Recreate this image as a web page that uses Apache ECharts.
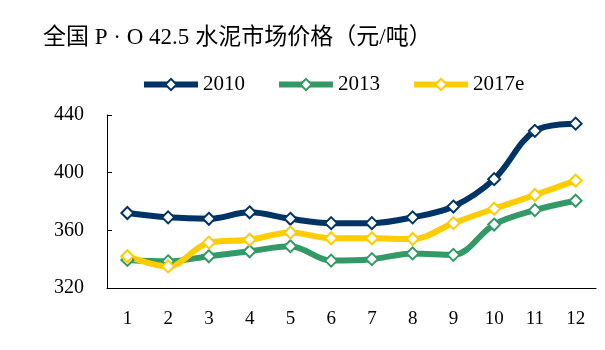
<!DOCTYPE html>
<html>
<head>
<meta charset="utf-8">
<script src="https://cdn.jsdelivr.net/npm/echarts@6/dist/echarts.min.js"></script>
<style>
  html, body { margin: 0; padding: 0; background: #fff; }
  #chart { width: 605px; height: 350px; }
</style>
</head>
<body>
<div id="chart"></div>
<script>
// months on the x axis
const months = ['1', '2', '3', '4', '5', '6', '7', '8', '9', '10', '11', '12']
const price2010 = [372, 369, 368, 372.5, 368, 365, 365, 369, 376.5, 395.5, 429, 434]
const price2013 = [339.5, 338.5, 342, 345.5, 349, 339, 340, 344, 343, 364, 374, 380.5]
const price2017e = [342, 335, 351.5, 353.5, 358.5, 354.5, 354.5, 354, 365, 375, 384.5, 394.5]
const seriesNames = ['2010', '2013', '2017e']
const seriesColors = ['#003466', '#339966', '#ffcc00']

const serif = '"Liberation Serif", "Times New Roman", "Noto Sans CJK SC", serif'

const chart = echarts.init(document.getElementById('chart'))

function makeSeries(name, data, color) {
  return {
    name: name,
    type: 'line',
    data: data,
    smooth: 0.35,
    symbol: 'diamond',
    symbolSize: 12,
    z: 3,
    lineStyle: { color: color, width: 6 },
    itemStyle: { color: '#fff', borderColor: color, borderWidth: 2 },
  }
}

chart.setOption({
  animation: false,
  title: {
    // 标题里中文和数字字号不一样
    text: '{c|全国} {l|P · O 42.5}{c|水泥市场价格（元/吨）}',
    left: 38,
    top: 21,
    textStyle: {
      fontFamily: serif,
      fontSize: 23,
      fontWeight: 'normal',
      color: '#000',
      rich: {
        c: { fontFamily: serif, fontSize: 23, color: '#000', verticalAlign: 'middle' },
        l: { fontFamily: serif, fontSize: 23, color: '#000', verticalAlign: 'middle', padding: [0, 6, 0, 0] },
      },
    },
  },
  legend: {
    top: 69,
    left: 136,
    itemWidth: 54,
    itemHeight: 14,
    itemGap: 31,
    lineStyle: { width: 6 },
    textStyle: { fontFamily: serif, fontSize: 21, color: '#000' },
    data: seriesNames,
  },
  grid: {
    left: 107,
    right: 9,
    top: 115,
    bottom: 62,
  },
  xAxis: {
    type: 'category',
    data: months,
    boundaryGap: true,
    axisLine: { lineStyle: { color: '#000', width: 1 } },
    axisTick: { inside: true, length: 5, lineStyle: { color: '#000' } },
    axisLabel: {
      fontFamily: serif,
      fontSize: 19,
      color: '#000',
      margin: 22,
    },
    splitLine: { show: false },
  },
  yAxis: {
    type: 'value',
    min: 320,
    max: 440,
    interval: 40,
    axisLine: { show: true, lineStyle: { color: '#000', width: 1 } },
    axisTick: { show: true, inside: true, length: 5, lineStyle: { color: '#000' } },
    axisLabel: {
      fontFamily: serif,
      fontSize: 20,
      color: '#000',
      margin: 23,
    },
    splitLine: { show: false },
  },
  series: [
    makeSeries(seriesNames[0], price2010, seriesColors[0]),
    makeSeries(seriesNames[1], price2013, seriesColors[1]),
    makeSeries(seriesNames[2], price2017e, seriesColors[2]),
  ],
})
</script>
</body>
</html>
